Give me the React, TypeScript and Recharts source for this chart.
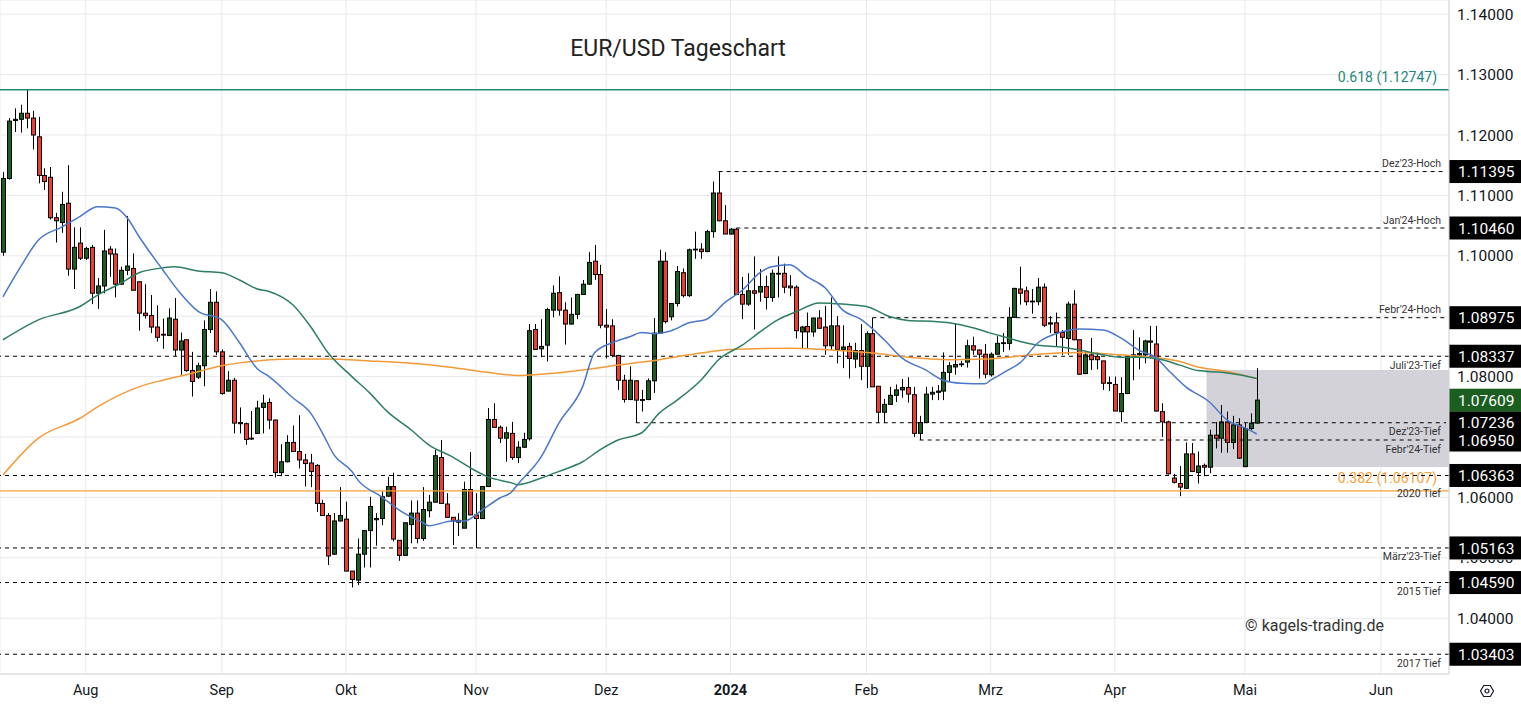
import React from "react"
import {
  ComposedChart,
  Bar,
  Line,
  XAxis,
  YAxis,
  CartesianGrid,
  ReferenceLine,
  ReferenceArea,
  Customized,
} from "recharts"

const W = 1521
const H = 705
const AXIS_W = 72
const PLOT_R = W - AXIS_W
const FONT = "Roboto, 'Liberation Sans', sans-serif"
const UP = "#1b5e20"
const DOWN = "#f23b2e"

// daily candles, [open, high, low, close], from 12 Jul 2023 to 3 May 2024
const candles: number[][] = [
  [1.1006, 1.1139, 1.1, 1.1128], [1.1128, 1.1228, 1.1126, 1.1223], [1.1224, 1.1244, 1.1205, 1.1226],
  [1.1226, 1.125, 1.1204, 1.1236], [1.1236, 1.1276, 1.1211, 1.1228], [1.1228, 1.124, 1.1176, 1.12],
  [1.1197, 1.123, 1.112, 1.1133], [1.1133, 1.1145, 1.1109, 1.1123], [1.113, 1.1147, 1.106, 1.1063],
  [1.1063, 1.1071, 1.1022, 1.1058], [1.1055, 1.1106, 1.1038, 1.1085], [1.1087, 1.115, 1.0967, 1.0978],
  [1.0978, 1.1047, 1.0945, 1.1014], [1.1021, 1.1047, 1.0993, 1.0996], [1.0996, 1.1015, 1.0993, 1.1012],
  [1.1014, 1.1018, 1.092, 1.0938], [1.0938, 1.0963, 1.0912, 1.095], [1.095, 1.1043, 1.0938, 1.1008],
  [1.1011, 1.1016, 1.0965, 1.1003], [1.1003, 1.1012, 1.0931, 1.0953], [1.0953, 1.0982, 1.0952, 1.0976],
  [1.0976, 1.1066, 1.0968, 1.0983], [1.0979, 1.1004, 1.0943, 1.0943], [1.0957, 1.0957, 1.0876, 1.0905],
  [1.0905, 1.0953, 1.0896, 1.0901], [1.0901, 1.0935, 1.0872, 1.0882], [1.0882, 1.0918, 1.0858, 1.0865],
  [1.0869, 1.0896, 1.0846, 1.087], [1.0868, 1.0913, 1.0867, 1.0897], [1.0895, 1.093, 1.0834, 1.0844],
  [1.0844, 1.0873, 1.0803, 1.0859], [1.0861, 1.0861, 1.0808, 1.081], [1.081, 1.0841, 1.0767, 1.0792],
  [1.0799, 1.0823, 1.0796, 1.0818], [1.0818, 1.0893, 1.0784, 1.0878], [1.0878, 1.0945, 1.0872, 1.0923],
  [1.0923, 1.0941, 1.0836, 1.0841], [1.0841, 1.0845, 1.077, 1.0772], [1.0776, 1.0809, 1.0775, 1.0794],
  [1.0794, 1.0798, 1.0706, 1.0723], [1.0724, 1.0749, 1.0706, 1.0722], [1.0722, 1.0724, 1.0687, 1.0696],
  [1.0697, 1.0743, 1.0695, 1.0698], [1.0706, 1.076, 1.0705, 1.0748], [1.0749, 1.077, 1.0706, 1.0756],
  [1.0757, 1.0764, 1.0713, 1.0728], [1.0728, 1.0729, 1.0633, 1.0641], [1.0641, 1.0688, 1.0635, 1.0659],
  [1.0659, 1.0703, 1.0658, 1.0691], [1.0691, 1.0719, 1.0675, 1.0676], [1.0676, 1.0736, 1.0648, 1.0662],
  [1.0662, 1.0672, 1.0618, 1.0656], [1.0657, 1.0672, 1.0617, 1.0643], [1.0653, 1.0655, 1.0576, 1.059],
  [1.059, 1.0596, 1.057, 1.057], [1.057, 1.0574, 1.0488, 1.0503], [1.0506, 1.0574, 1.0505, 1.0561],
  [1.0561, 1.0617, 1.056, 1.057], [1.0564, 1.0593, 1.0478, 1.0478], [1.0478, 1.0478, 1.0451, 1.0464],
  [1.0463, 1.0532, 1.0455, 1.0506], [1.0506, 1.0545, 1.0484, 1.0545], [1.0545, 1.0601, 1.0484, 1.0585],
  [1.0563, 1.0574, 1.052, 1.0565], [1.0565, 1.061, 1.0554, 1.0601], [1.0602, 1.0634, 1.0601, 1.0618],
  [1.0618, 1.0641, 1.0527, 1.0531], [1.0529, 1.0529, 1.0495, 1.0504], [1.0504, 1.0558, 1.0504, 1.0558],
  [1.0555, 1.0595, 1.0524, 1.0574], [1.0574, 1.0595, 1.0524, 1.0532], [1.0532, 1.0617, 1.0528, 1.058],
  [1.0578, 1.0604, 1.0567, 1.0592], [1.0592, 1.0679, 1.0592, 1.0669], [1.0666, 1.0695, 1.059, 1.059],
  [1.0589, 1.0607, 1.0567, 1.0567], [1.0567, 1.0567, 1.0521, 1.0561], [1.0559, 1.0574, 1.0536, 1.0562],
  [1.0549, 1.0626, 1.0549, 1.0613], [1.0613, 1.0675, 1.0571, 1.0571], [1.0571, 1.0607, 1.0516, 1.0565],
  [1.0565, 1.0618, 1.0565, 1.0618], [1.0618, 1.0748, 1.0617, 1.0729], [1.0729, 1.0756, 1.0716, 1.0716],
  [1.0716, 1.0719, 1.069, 1.0698], [1.0698, 1.0717, 1.0659, 1.0707], [1.0706, 1.0725, 1.0662, 1.0666],
  [1.0666, 1.0693, 1.0657, 1.0683], [1.0683, 1.0707, 1.0682, 1.0696], [1.0697, 1.0887, 1.0694, 1.0876],
  [1.0878, 1.0887, 1.0844, 1.0845], [1.0846, 1.0895, 1.0832, 1.085], [1.0852, 1.0914, 1.0825, 1.0911],
  [1.091, 1.0951, 1.0898, 1.0938], [1.0939, 1.0966, 1.0901, 1.091], [1.091, 1.0923, 1.0853, 1.0887],
  [1.0887, 1.0931, 1.0886, 1.0903], [1.0903, 1.0937, 1.0895, 1.0936], [1.0936, 1.096, 1.0935, 1.0953],
  [1.0953, 1.1006, 1.0952, 1.0989], [1.0991, 1.1018, 1.096, 1.0969], [1.0969, 1.0985, 1.088, 1.0885],
  [1.0885, 1.0912, 1.083, 1.0882], [1.0884, 1.0895, 1.0832, 1.0835], [1.0835, 1.0836, 1.0778, 1.0794],
  [1.0794, 1.0803, 1.0757, 1.0762], [1.0762, 1.0817, 1.0761, 1.0794], [1.0793, 1.0794, 1.0724, 1.0761],
  [1.0761, 1.0778, 1.0742, 1.0762], [1.0762, 1.0797, 1.0761, 1.0793], [1.0793, 1.0897, 1.0773, 1.0872],
  [1.0872, 1.101, 1.0871, 1.0991], [1.0991, 1.1006, 1.0888, 1.0891], [1.0899, 1.0921, 1.0893, 1.0921],
  [1.0921, 1.0983, 1.0916, 1.0974], [1.0972, 1.0979, 1.0931, 1.0934], [1.0934, 1.1012, 1.0932, 1.101],
  [1.101, 1.104, 1.0995, 1.1011], [1.1011, 1.1021, 1.0995, 1.1007], [1.1007, 1.1043, 1.1006, 1.104],
  [1.104, 1.1123, 1.103, 1.1104], [1.1104, 1.1139, 1.1057, 1.1058], [1.1058, 1.1084, 1.1036, 1.1036],
  [1.1036, 1.1046, 1.1035, 1.1044], [1.1044, 1.1046, 1.0935, 1.0936], [1.0936, 1.0965, 1.0895, 1.092],
  [1.092, 1.0971, 1.0917, 1.0942], [1.0942, 1.0999, 1.0878, 1.0938], [1.094, 1.0978, 1.0924, 1.0949],
  [1.0949, 1.0967, 1.0911, 1.0931], [1.0931, 1.0977, 1.0924, 1.0971], [1.0971, 1.0999, 1.0931, 1.097],
  [1.0971, 1.0987, 1.0938, 1.0948], [1.095, 1.0968, 1.0933, 1.0947], [1.0948, 1.0951, 1.0863, 1.0876],
  [1.0874, 1.0884, 1.0847, 1.0882], [1.0883, 1.0906, 1.0847, 1.0874], [1.0874, 1.0897, 1.0866, 1.0897],
  [1.0897, 1.091, 1.088, 1.088], [1.0882, 1.0917, 1.0836, 1.0851], [1.0851, 1.0931, 1.0844, 1.0884],
  [1.0884, 1.09, 1.0822, 1.0845], [1.0845, 1.0885, 1.0814, 1.0849], [1.085, 1.0856, 1.0797, 1.083],
  [1.0829, 1.0856, 1.0814, 1.0843], [1.0843, 1.0887, 1.0794, 1.0817], [1.0817, 1.0875, 1.0781, 1.0871],
  [1.0871, 1.0897, 1.0783, 1.0783], [1.0784, 1.0784, 1.0723, 1.0741], [1.0741, 1.0763, 1.0723, 1.0754],
  [1.0754, 1.0783, 1.0754, 1.0769], [1.0769, 1.0787, 1.0758, 1.0778], [1.0778, 1.0796, 1.0765, 1.0782],
  [1.0782, 1.0799, 1.0757, 1.0771], [1.077, 1.0783, 1.07, 1.0706], [1.0706, 1.0735, 1.0695, 1.0724],
  [1.0724, 1.0783, 1.0724, 1.0771], [1.0771, 1.0783, 1.0761, 1.0774], [1.0774, 1.0786, 1.0761, 1.0776],
  [1.0776, 1.084, 1.0761, 1.0807], [1.0807, 1.0824, 1.0792, 1.0818], [1.0816, 1.0888, 1.0803, 1.082],
  [1.082, 1.0826, 1.0816, 1.0821], [1.0824, 1.0861, 1.0815, 1.0851], [1.0851, 1.0866, 1.0836, 1.0844],
  [1.0844, 1.0845, 1.0797, 1.0837], [1.0837, 1.0854, 1.0797, 1.0804], [1.0803, 1.084, 1.08, 1.0837],
  [1.0837, 1.0867, 1.0837, 1.0855], [1.0855, 1.0872, 1.0841, 1.0856], [1.0855, 1.0915, 1.0844, 1.0898],
  [1.0898, 1.0947, 1.0897, 1.0946], [1.0945, 1.0982, 1.0919, 1.0938], [1.0942, 1.0949, 1.0918, 1.0924],
  [1.0924, 1.0945, 1.0904, 1.0925], [1.0924, 1.0963, 1.0918, 1.0948], [1.0948, 1.0954, 1.0882, 1.0885],
  [1.0887, 1.09, 1.0872, 1.0889], [1.0889, 1.0906, 1.085, 1.0873], [1.0873, 1.0877, 1.0836, 1.0865],
  [1.0863, 1.0924, 1.0836, 1.092], [1.092, 1.0943, 1.086, 1.0861], [1.0861, 1.0861, 1.0803, 1.0804],
  [1.0805, 1.0839, 1.0804, 1.0836], [1.0836, 1.0864, 1.0811, 1.0828], [1.0833, 1.084, 1.0812, 1.0828],
  [1.0826, 1.0826, 1.0778, 1.0789], [1.0789, 1.08, 1.0776, 1.079], [1.0787, 1.08, 1.0743, 1.0743],
  [1.0742, 1.0799, 1.0725, 1.0772], [1.0772, 1.0834, 1.0771, 1.0833], [1.0834, 1.0877, 1.0794, 1.0836],
  [1.0836, 1.0865, 1.0812, 1.0838], [1.0836, 1.0861, 1.0822, 1.0859], [1.0859, 1.0884, 1.083, 1.0857],
  [1.0854, 1.0884, 1.0742, 1.0743], [1.0742, 1.0756, 1.07, 1.0725], [1.0725, 1.0727, 1.0638, 1.0639],
  [1.0632, 1.0639, 1.0623, 1.0625], [1.0623, 1.0652, 1.0602, 1.0617], [1.0615, 1.0691, 1.0614, 1.0672],
  [1.0672, 1.069, 1.0642, 1.0643], [1.0641, 1.0676, 1.0623, 1.0652], [1.0653, 1.0656, 1.0635, 1.065],
  [1.065, 1.0712, 1.064, 1.0703], [1.0703, 1.0725, 1.0681, 1.0698], [1.0698, 1.0753, 1.0674, 1.0725],
  [1.0725, 1.0742, 1.0674, 1.0691], [1.0691, 1.0735, 1.068, 1.072], [1.072, 1.0731, 1.0664, 1.0665],
  [1.0651, 1.0723, 1.065, 1.0714], [1.0714, 1.0739, 1.0711, 1.0723], [1.0723, 1.0814, 1.0722, 1.0761],
]

// moving averages, [bar index, value]
const blueMA = [
  [0, 1.0932], [3, 1.0982], [6, 1.1026], [10, 1.1048], [13, 1.1065], [16, 1.1081], [19, 1.1079],
  [21, 1.1063], [23, 1.1032], [27, 1.0977], [30, 1.0938], [33, 1.0908], [37, 1.0894], [40, 1.0856],
  [43, 1.0813], [45, 1.08], [49, 1.0765], [52, 1.074], [54, 1.0707], [56, 1.067], [59, 1.0643],
  [60, 1.0629], [64, 1.0601], [67, 1.0579], [71, 1.0558], [72, 1.0553], [76, 1.0561], [78, 1.0561],
  [81, 1.0579], [84, 1.0599], [86, 1.0609], [87, 1.0621], [91, 1.0667], [94, 1.0723], [98, 1.0783],
  [100, 1.0839], [103, 1.0856], [106, 1.0866], [108, 1.0873], [110, 1.0871], [113, 1.0876],
  [116, 1.0889], [119, 1.0895], [122, 1.0922], [125, 1.0943], [128, 1.0972], [130, 1.0982],
  [133, 1.0985], [136, 1.0965], [139, 1.0947], [142, 1.091], [145, 1.0895], [149, 1.0861],
  [152, 1.0831], [156, 1.0811], [159, 1.0794], [162, 1.0789], [166, 1.0788], [167, 1.0794],
  [170, 1.0811], [172, 1.0823], [175, 1.0856], [179, 1.0874], [182, 1.0879], [186, 1.0877],
  [189, 1.0864], [192, 1.0844], [195, 1.0831], [197, 1.0811], [200, 1.0783], [204, 1.0758],
  [207, 1.0728], [210, 1.0715], [212, 1.0705],
]
const greenMA = [
  [0, 1.0861], [6, 1.0894], [13, 1.0916], [16, 1.0935], [20, 1.0955], [23, 1.0972], [27, 1.098],
  [29, 1.0982], [33, 1.0975], [37, 1.0972], [40, 1.096], [43, 1.0945], [45, 1.0941], [49, 1.0919],
  [52, 1.0883], [55, 1.0839], [59, 1.08], [62, 1.0773], [65, 1.0742], [69, 1.0712], [72, 1.0687],
  [76, 1.0667], [79, 1.0649], [82, 1.0634], [86, 1.0624], [87, 1.0621], [91, 1.0632], [94, 1.0643],
  [98, 1.0659], [101, 1.0679], [104, 1.0695], [108, 1.0707], [111, 1.074], [114, 1.0761],
  [118, 1.0794], [121, 1.0828], [125, 1.0852], [128, 1.0874], [131, 1.0894], [134, 1.0907],
  [138, 1.0922], [142, 1.092], [146, 1.0916], [150, 1.0899], [153, 1.0893], [158, 1.0891],
  [160, 1.0889], [164, 1.0881], [167, 1.0872], [170, 1.0864], [172, 1.0858], [175, 1.0852],
  [179, 1.0849], [182, 1.0844], [186, 1.0836], [189, 1.0832], [192, 1.0832], [196, 1.0828],
  [199, 1.0819], [202, 1.081], [206, 1.0807], [209, 1.0803], [212, 1.0797],
]
const orangeMA = [
  [0, 1.0637], [6, 1.0698], [13, 1.0731], [16, 1.075], [23, 1.0783], [27, 1.0794], [31, 1.0803],
  [37, 1.0818], [43, 1.0826], [49, 1.0829], [55, 1.0829], [62, 1.0826], [69, 1.0822], [76, 1.0815],
  [82, 1.0807], [87, 1.0802], [91, 1.0804], [98, 1.0811], [104, 1.0819], [111, 1.0828],
  [118, 1.0839], [123, 1.0845], [133, 1.0847], [140, 1.0844], [147, 1.0839], [153, 1.0832],
  [160, 1.0828], [166, 1.0829], [170, 1.0832], [175, 1.0837], [182, 1.084], [189, 1.0836],
  [196, 1.083], [199, 1.0825], [202, 1.0816], [206, 1.081], [209, 1.0804], [212, 1.0797],
]

const SLOTS = 245
const monthIdx = [14, 37, 58, 80, 102, 123, 146, 167, 188, 210, 233]
const monthLabels = ["Aug", "Sep", "Okt", "Nov", "Dez", "2024", "Feb", "Mrz", "Apr", "Mai", "Jun"]
const priceTicks = [1.04, 1.05, 1.06, 1.07, 1.08, 1.09, 1.1, 1.11, 1.12, 1.13, 1.14]
const coveredTicks = [1.07, 1.09] // hidden behind level badges
const clippedTicks = [1.05] // half hidden behind a badge

// support / resistance levels
const levelPrices = [1.11395, 1.1046, 1.08975, 1.08337, 1.07236, 1.0695, 1.06363, 1.05163, 1.0459, 1.03403]
const levelNames = ["Dez'23-Hoch", "Jan'24-Hoch", "Febr'24-Hoch", "Juli'23-Tief", "Dez'23-Tief",
  "Febr'24-Tief", "2020 Tief", "März'23-Tief", "2015 Tief", "2017 Tief"]
const levelStart: (number | null)[] = [121, 124, 147, null, 107, 155, null, null, null, null]
const lastPrice = 1.07609
const fib618 = 1.12747
const fib382 = 1.06107
const boxRange = { x1: 204, x2: 244, y1: 1.06503, y2: 1.08109 }

const maMap = (arr: number[][]) => new Map(arr.map(([i, v]) => [i, v]))
const blueAt = maMap(blueMA)
const greenAt = maMap(greenMA)
const orangeAt = maMap(orangeMA)

const rows = Array.from({ length: SLOTS }, (_, i) => {
  const k = candles[i]
  return {
    i,
    range: k ? [k[2], k[1]] : null,
    o: k ? k[0] : null,
    h: k ? k[1] : null,
    l: k ? k[2] : null,
    c: k ? k[3] : null,
    blue: blueAt.get(i) ?? null,
    green: greenAt.get(i) ?? null,
    orange: orangeAt.get(i) ?? null,
  }
})

function Candle(props: any) {
  const { x, y, width, height, payload } = props
  if (!payload || payload.o == null) return null
  const { o, h, l, c } = payload
  const span = h - l || 0.00001
  const toY = (p: number) => y + ((h - p) / span) * height
  const cx = Math.round(x + width / 2) + 0.5
  const top = toY(Math.max(o, c))
  const bot = toY(Math.min(o, c))
  return (
    <g>
      <line x1={cx} x2={cx} y1={y} y2={y + height} stroke="#000" strokeWidth={1} />
      <rect
        x={cx - 2}
        y={top}
        width={4}
        height={Math.max(bot - top, 0.8)}
        fill={c >= o ? UP : DOWN}
        stroke="#000"
        strokeWidth={1}
      />
    </g>
  )
}

function MonthTick(props: any) {
  const { x, y, payload } = props
  const label = monthLabels[monthIdx.indexOf(payload.value)]
  return (
    <text x={x} y={y + 13} textAnchor="middle" fontSize={14.5} fontFamily={FONT}
      fontWeight={label === "2024" ? 700 : 400} fill="#131722">
      {label}
    </text>
  )
}

function PriceTick(props: any) {
  const { x, y, payload } = props
  const v = Number(payload.value)
  const near = (list: number[]) => list.some((t) => Math.abs(t - v) < 1e-6)
  if (near(coveredTicks)) return <g />
  const label = (
    <text x={x} y={y} dy="0.36em" fill="#131722" fontSize={15.5} fontFamily={FONT}>{v.toFixed(5)}</text>
  )
  if (near(clippedTicks)) {
    const id = `tick-clip-${Math.round(v * 1e5)}`
    return (
      <g>
        <clipPath id={id}>
          <rect x={x - 4} y={y + 2} width={AXIS_W} height={14} />
        </clipPath>
        <g clipPath={`url(#${id})`}>{label}</g>
      </g>
    )
  }
  return label
}

const badge = (y: number, value: string, fill: string) => (
  <g>
    <rect x={PLOT_R} y={y - 11.5} width={AXIS_W} height={23} fill={fill} />
    <text x={PLOT_R + 9} y={y} dy="0.36em" fill="#fff" fontSize={15.5} fontFamily={FONT}>{value}</text>
  </g>
)

const levelLabel = (name: string, price: number, below: boolean, extra = 0) => (p: any) => {
  const y = p.viewBox.y
  return (
    <g>
      <text x={PLOT_R - 8} y={y + (below ? 12.5 + extra : -4.5)} textAnchor="end"
        fontSize={10.5} fontFamily={FONT} fill="#333">{name}</text>
      {badge(y, price.toFixed(5), "#000")}
    </g>
  )
}

const fibLabel = (text: string, color: string) => (p: any) => (
  <text x={PLOT_R - 12} y={p.viewBox.y - 8} textAnchor="end" fontSize={14} fontFamily={FONT} fill={color}>
    {text}
  </text>
)

const noDot = (p: any) => <g key={`nd-${p.index}`} />

export default function App() {
  return (
    <div style={{ width: W, height: H, background: "#fff" }}>
      <style>{"body{margin:0;background:#fff}"}</style>
      <ComposedChart width={W} height={H} data={rows} margin={{ top: 0, right: 0, bottom: 0, left: 0 }}>
        <CartesianGrid stroke="#e9e9ed" />
        <XAxis dataKey="i" ticks={monthIdx} interval={0} tick={<MonthTick />} height={31}
          axisLine={{ stroke: "#d6d6dc" }} tickLine={false} />
        <YAxis orientation="right" type="number" domain={[1.03076, 1.14235]} ticks={priceTicks}
          allowDataOverflow width={AXIS_W} tick={<PriceTick />}
          axisLine={{ stroke: "#d6d6dc" }} tickLine={false} />
        <ReferenceArea x1={boxRange.x1} x2={boxRange.x2} y1={boxRange.y1} y2={boxRange.y2}
          fill="#d2d2d8" fillOpacity={1} stroke="none" ifOverflow="visible" />
        <ReferenceLine y={fib618} stroke="#22887a" strokeWidth={1.5} label={fibLabel(`0.618 (${fib618})`, "#22887a")} />
        <ReferenceLine y={fib382} stroke="#f5a03a" strokeWidth={1.2} label={fibLabel(`0.382 (${fib382})`, "#f5a03a")} />
        {levelPrices.map((p, k) => {
          const start = levelStart[k]
          const below = levelNames[k].includes("Tief")
          const extra = levelNames[k] === "2020 Tief" ? 9 : 0
          const common = {
            stroke: "#000",
            strokeDasharray: "4 4",
            strokeWidth: 1,
            label: levelLabel(levelNames[k], p, below, extra),
          }
          return start == null ? (
            <ReferenceLine key={k} y={p} {...common} />
          ) : (
            <ReferenceLine key={k} segment={[{ x: start, y: p }, { x: SLOTS - 1, y: p }]} {...common} />
          )
        })}
        <Bar dataKey="range" shape={(p: any) => <Candle {...p} />} isAnimationActive={false} />
        <Line dataKey="orange" stroke="#f39a38" strokeWidth={1.5} dot={noDot} activeDot={false}
          connectNulls type="monotone" isAnimationActive={false} />
        <Line dataKey="green" stroke="#2e7f62" strokeWidth={1.5} dot={noDot} activeDot={false}
          connectNulls type="monotone" isAnimationActive={false} />
        <Line dataKey="blue" stroke="#4a77c9" strokeWidth={1.5} dot={noDot} activeDot={false}
          connectNulls type="monotone" isAnimationActive={false} />
        <ReferenceLine y={lastPrice} stroke="none" label={(p: any) => badge(p.viewBox.y, lastPrice.toFixed(5), UP)} />
        <Customized
          component={() => (
            <g fontFamily={FONT}>
              <text x={678} y={56} textAnchor="middle" fontSize={23} fill="#222">EUR/USD Tageschart</text>
              <text x={1384} y={631} textAnchor="end" fontSize={16} fill="#333">© kagels-trading.de</text>
              <g transform="translate(1487,691)" fill="none" stroke="#131722" strokeWidth={1.2}>
                <polygon points="-6.5,0 -3.3,-5.5 3.3,-5.5 6.5,0 3.3,5.5 -3.3,5.5" />
                <circle r={2} />
              </g>
            </g>
          )}
        />
      </ComposedChart>
    </div>
  )
}
